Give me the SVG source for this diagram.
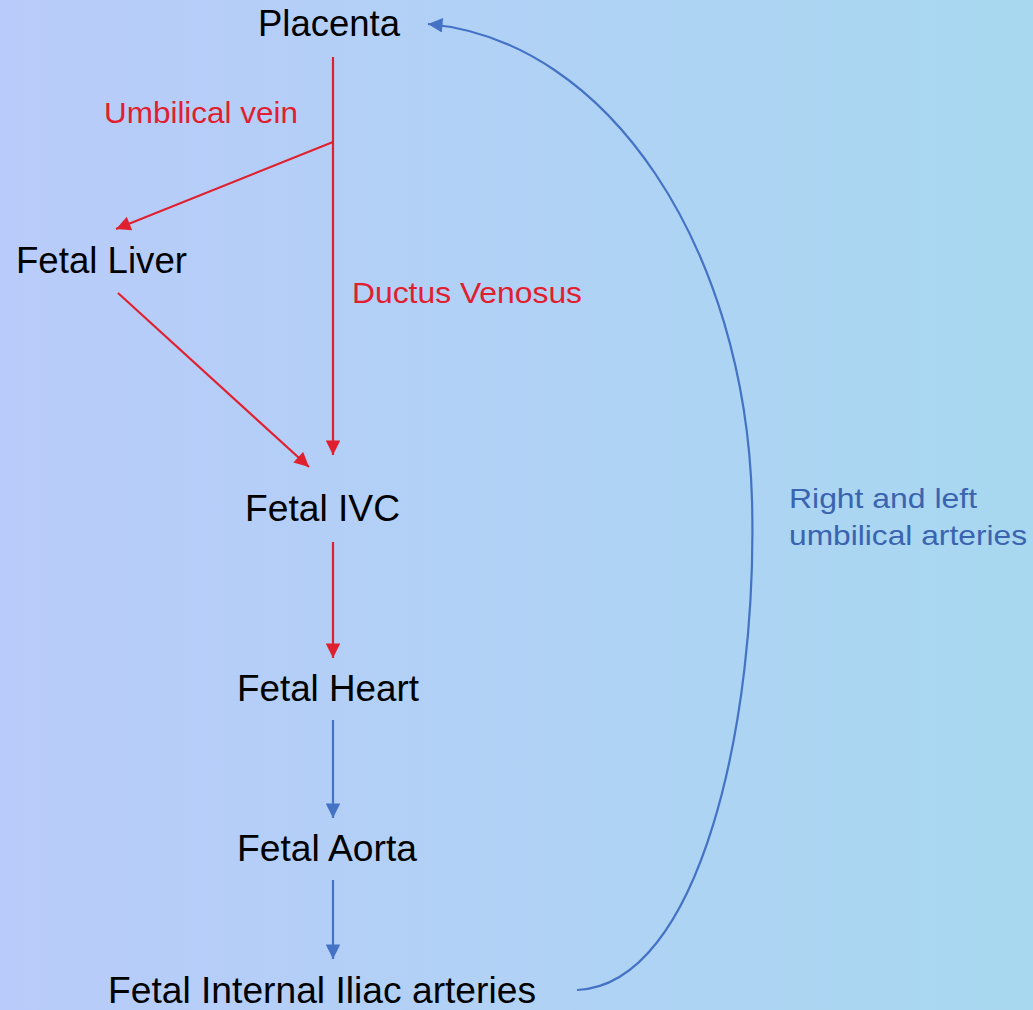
<svg xmlns="http://www.w3.org/2000/svg" width="1033" height="1010" viewBox="0 0 1033 1010">
<defs>
<linearGradient id="bg" x1="0" y1="0" x2="1" y2="0">
<stop offset="0" stop-color="#b9cbfa"/>
<stop offset="1" stop-color="#a8d8f0"/>
</linearGradient>
<marker id="ar" viewBox="0 0 10 10" refX="10" refY="5" markerWidth="7.2" markerHeight="6.6" orient="auto" markerUnits="strokeWidth"><path d="M0,0 L10,5 L0,10 z" fill="#e0202e"/></marker>
<marker id="ab" viewBox="0 0 10 10" refX="10" refY="5" markerWidth="7.2" markerHeight="6.6" orient="auto" markerUnits="strokeWidth"><path d="M0,0 L10,5 L0,10 z" fill="#4472c4"/></marker>
</defs>
<style>
.n{font-family:"Liberation Sans",Arial,sans-serif;font-size:36px;fill:#000}
.lr{font-family:"Liberation Sans",Arial,sans-serif;font-size:29px;fill:#e0202e}
.lb{font-family:"Liberation Sans",Arial,sans-serif;font-size:28px;fill:#3a64b0}
.r{stroke:#e0202e;stroke-width:2.2;fill:none}
.b{stroke:#4472c4;stroke-width:2.2;fill:none}
</style>
<rect width="1033" height="1010" fill="url(#bg)"/>
<g id="connectors">
<path class="r" d="M333,57 V455" marker-end="url(#ar)"/>
<path class="r" d="M333,142 L116,229" marker-end="url(#ar)"/>
<path class="r" d="M118,293 L309,467" marker-end="url(#ar)"/>
<path class="r" d="M333,542 V658" marker-end="url(#ar)"/>
<path class="b" d="M333,720 V818" marker-end="url(#ab)"/>
<path class="b" d="M333,880 V959" marker-end="url(#ab)"/>
<path class="b" d="M577,990 C700,985 758,720 752,500 C745,250 610,40 428,24" marker-end="url(#ab)"/>
<text class="lr" x="104" y="123" textLength="194" lengthAdjust="spacingAndGlyphs">Umbilical vein</text>
<text class="lr" x="352" y="303" textLength="230" lengthAdjust="spacingAndGlyphs">Ductus Venosus</text>
<text class="lb" x="789" y="508" textLength="188" lengthAdjust="spacingAndGlyphs">Right and left</text>
<text class="lb" x="789" y="545" textLength="238" lengthAdjust="spacingAndGlyphs">umbilical arteries</text>
</g>
<g id="placenta"><text class="n" x="258" y="36" textLength="142" lengthAdjust="spacingAndGlyphs">Placenta</text></g>
<g id="liver"><text class="n" x="16" y="273" textLength="171" lengthAdjust="spacingAndGlyphs">Fetal Liver</text></g>
<g id="ivc"><text class="n" x="245" y="521" textLength="155" lengthAdjust="spacingAndGlyphs">Fetal IVC</text></g>
<g id="heart"><text class="n" x="237" y="701" textLength="182" lengthAdjust="spacingAndGlyphs">Fetal Heart</text></g>
<g id="aorta"><text class="n" x="237" y="861" textLength="180" lengthAdjust="spacingAndGlyphs">Fetal Aorta</text></g>
<g id="iliac"><text class="n" x="108" y="1003" textLength="428" lengthAdjust="spacingAndGlyphs">Fetal Internal Iliac arteries</text></g>
</svg>
